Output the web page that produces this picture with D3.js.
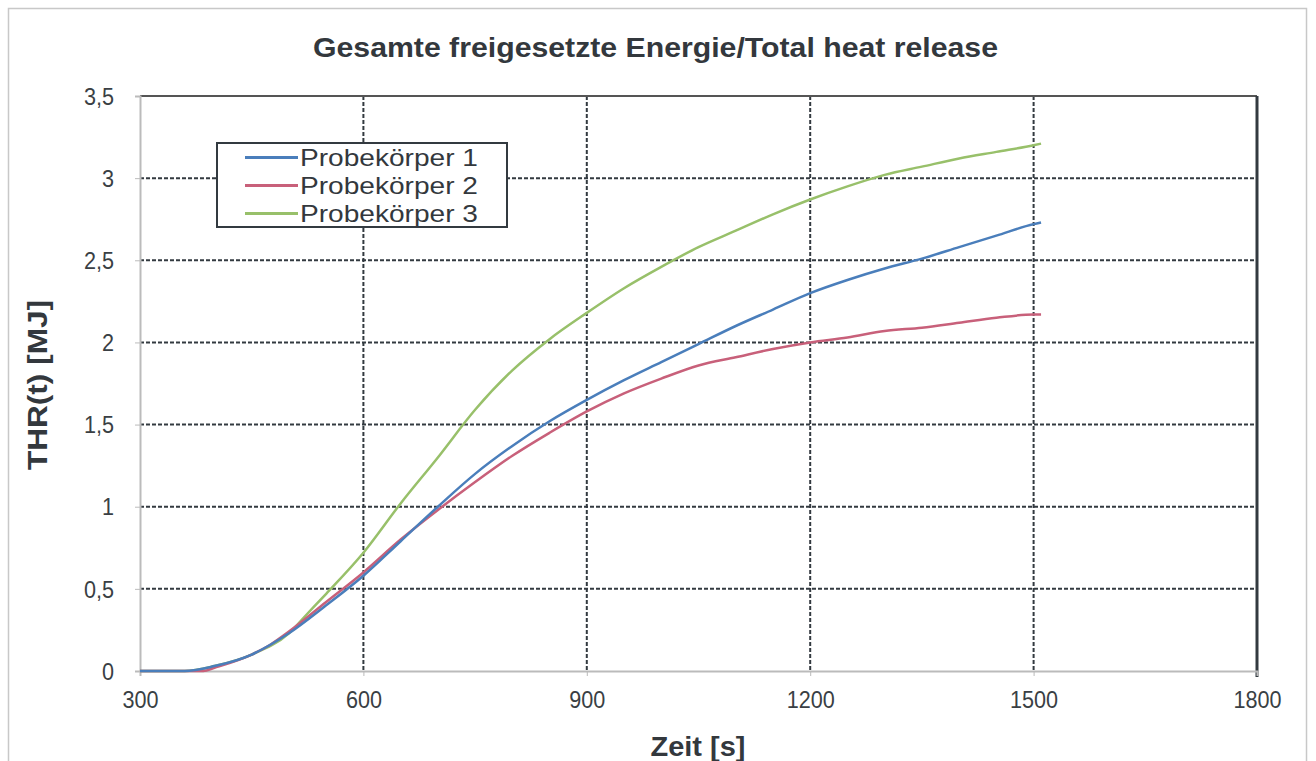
<!DOCTYPE html>
<html><head><meta charset="utf-8">
<script src="https://cdn.jsdelivr.net/npm/d3@7"></script>
<style>
body{margin:0;background:#fff;}
svg{display:block;font-family:"Liberation Sans",Arial,sans-serif;}
</style></head>
<body><svg id="c" width="1316" height="761"></svg>
<script>
const title = "Gesamte freigesetzte Energie/Total heat release";
const xLabel = "Zeit [s]";
const yLabel = "THR(t) [MJ]";
const xTicks = [300, 600, 900, 1200, 1500, 1800];
const yTicks = [0, 0.5, 1, 1.5, 2, 2.5, 3, 3.5];
const seriesNames = ["Probekörper 1", "Probekörper 2", "Probekörper 3"];
const seriesColors = ["#4a7ebb", "#c8607a", "#98c06a"];

const time1 = [300,360,400,450,475,500,550,600,650,700,750,800,850,900,950,1000,1050,1100,1150,1200,1250,1300,1350,1400,1450,1500,1510];
const thr1  = [0,0,0.03,0.1,0.16,0.23,0.4,0.58,0.79,1.0,1.2,1.37,1.52,1.65,1.77,1.88,1.99,2.1,2.2,2.3,2.38,2.45,2.51,2.58,2.65,2.72,2.73];
const time2 = [300,385,400,450,475,500,550,600,650,700,750,800,850,900,950,1000,1050,1100,1150,1200,1250,1300,1350,1400,1450,1500,1510];
const thr2  = [0,0,0.02,0.1,0.16,0.24,0.42,0.6,0.8,0.98,1.15,1.31,1.45,1.58,1.69,1.78,1.86,1.91,1.96,2.0,2.03,2.07,2.09,2.12,2.15,2.17,2.17];
const time3 = [300,360,400,450,500,525,550,600,650,700,750,800,850,900,950,1000,1050,1100,1150,1200,1250,1300,1350,1400,1450,1500,1510];
const thr3  = [0,0,0.03,0.1,0.23,0.35,0.47,0.72,1.02,1.3,1.59,1.83,2.02,2.18,2.33,2.46,2.58,2.68,2.78,2.87,2.95,3.02,3.07,3.12,3.16,3.2,3.21];

const svg = d3.select("#c");
const L = 140, R = 1257, T = 96, B = 671;
const x = d3.scaleLinear().domain([300, 1800]).range([L, R]);
const y = d3.scaleLinear().domain([0, 3.5]).range([B, T]);

// fit text to a measured width
function fit(sel, w) {
  sel.each(function() {
    const n = this;
    const width = typeof w === "function" ? w(n.getComputedTextLength()) : w;
    d3.select(n).attr("textLength", width).attr("lengthAdjust", "spacingAndGlyphs");
  });
}

// outer frame
svg.append("rect").attr("x", 8.5).attr("y", 8.5).attr("width", 1298).attr("height", 760)
  .attr("fill", "none").attr("stroke", "#c8c8c8").attr("stroke-width", 1.5);

// title
svg.append("text").attr("x", 655.5).attr("y", 57).attr("text-anchor", "middle")
  .attr("font-size", 27).attr("font-weight", "bold").attr("fill", "#33383d")
  .text(title).call(fit, 685);

// grid
const grid = svg.append("g");
grid.selectAll("line.v").data(xTicks.filter(d => d > 300 && d < 1800)).join("line")
  .attr("x1", d => x(d)).attr("x2", d => x(d)).attr("y1", T).attr("y2", B)
  .attr("stroke", "#333a40").attr("stroke-width", 2).attr("stroke-dasharray", "4,2");
grid.selectAll("line.h").data(yTicks.filter(d => d > 0 && d < 3.5)).join("line")
  .attr("x1", L).attr("x2", R).attr("y1", d => y(d)).attr("y2", d => y(d))
  .attr("stroke", "#333a40").attr("stroke-width", 2).attr("stroke-dasharray", "4,2");

// plot border: top and right dark
svg.append("line").attr("x1", L).attr("x2", R).attr("y1", T).attr("y2", T)
  .attr("stroke", "#555").attr("stroke-width", 2);
svg.append("line").attr("x1", R).attr("x2", R).attr("y1", T).attr("y2", B + 6)
  .attr("stroke", "#333a40").attr("stroke-width", 3);

// axes
const xAxis = d3.axisBottom(x).tickValues(xTicks).tickSize(5).tickFormat(d3.format("d"));
const gx = svg.append("g").attr("transform", `translate(0,${B})`).call(xAxis);
gx.select(".domain").attr("stroke", "#bbb").attr("stroke-width", 2);
gx.selectAll(".tick line").attr("stroke", "#bbb");
gx.selectAll(".tick text").attr("font-size", 24).attr("fill", "#3a3f44")
  .attr("font-family", "Liberation Sans, Arial, sans-serif").attr("y", 0).attr("dy", 37)
  .call(fit, l => l * 0.9);

const yFmt = d => String(d).replace(".", ",");
const yAxis = d3.axisLeft(y).tickValues(yTicks).tickSize(5).tickFormat(yFmt);
const gy = svg.append("g").attr("transform", `translate(${L},0)`).call(yAxis);
gy.select(".domain").attr("stroke", "#bbb").attr("stroke-width", 2);
gy.selectAll(".tick line").attr("stroke", "#bbb");
gy.selectAll(".tick text").attr("font-size", 24).attr("fill", "#3a3f44")
  .attr("font-family", "Liberation Sans, Arial, sans-serif").attr("x", -26).attr("dy", "0.34em")
  .call(fit, l => l * 0.9);

// axis titles
svg.append("text").attr("x", 698).attr("y", 756).attr("text-anchor", "middle")
  .attr("font-size", 27).attr("font-weight", "bold").attr("fill", "#33383d").text(xLabel).call(fit, 95);
svg.append("text").attr("transform", "translate(47,385) rotate(-90)").attr("text-anchor", "middle")
  .attr("font-size", 27).attr("font-weight", "bold").attr("fill", "#33383d").text(yLabel).call(fit, 170);

// lines
const series = [
  time1.map((t, i) => [t, thr1[i]]),
  time2.map((t, i) => [t, thr2[i]]),
  time3.map((t, i) => [t, thr3[i]])
];
const line = d3.line().x(d => x(d[0])).y(d => y(d[1])).curve(d3.curveMonotoneX);
const order = [2, 1, 0];
svg.append("g").selectAll("path").data(order).join("path")
  .attr("d", i => line(series[i])).attr("fill", "none")
  .attr("stroke", i => seriesColors[i]).attr("stroke-width", 2.5);

// legend
const lg = svg.append("g");
lg.append("rect").attr("x", 217).attr("y", 143).attr("width", 290).attr("height", 84)
  .attr("fill", "#fff").attr("stroke", "#333a40").attr("stroke-width", 2);
const items = lg.selectAll("g.item").data(seriesNames).join("g")
  .attr("transform", (d, i) => `translate(0,${157.5 + i * 28})`);
items.append("line").attr("x1", 245).attr("x2", 298).attr("y1", 0).attr("y2", 0)
  .attr("stroke", (d, i) => seriesColors[i]).attr("stroke-width", 3);
items.append("text").attr("x", 300).attr("y", 8.5).attr("font-size", 24).attr("fill", "#33383d")
  .text(d => d).call(fit, 178);
</script></body></html>
